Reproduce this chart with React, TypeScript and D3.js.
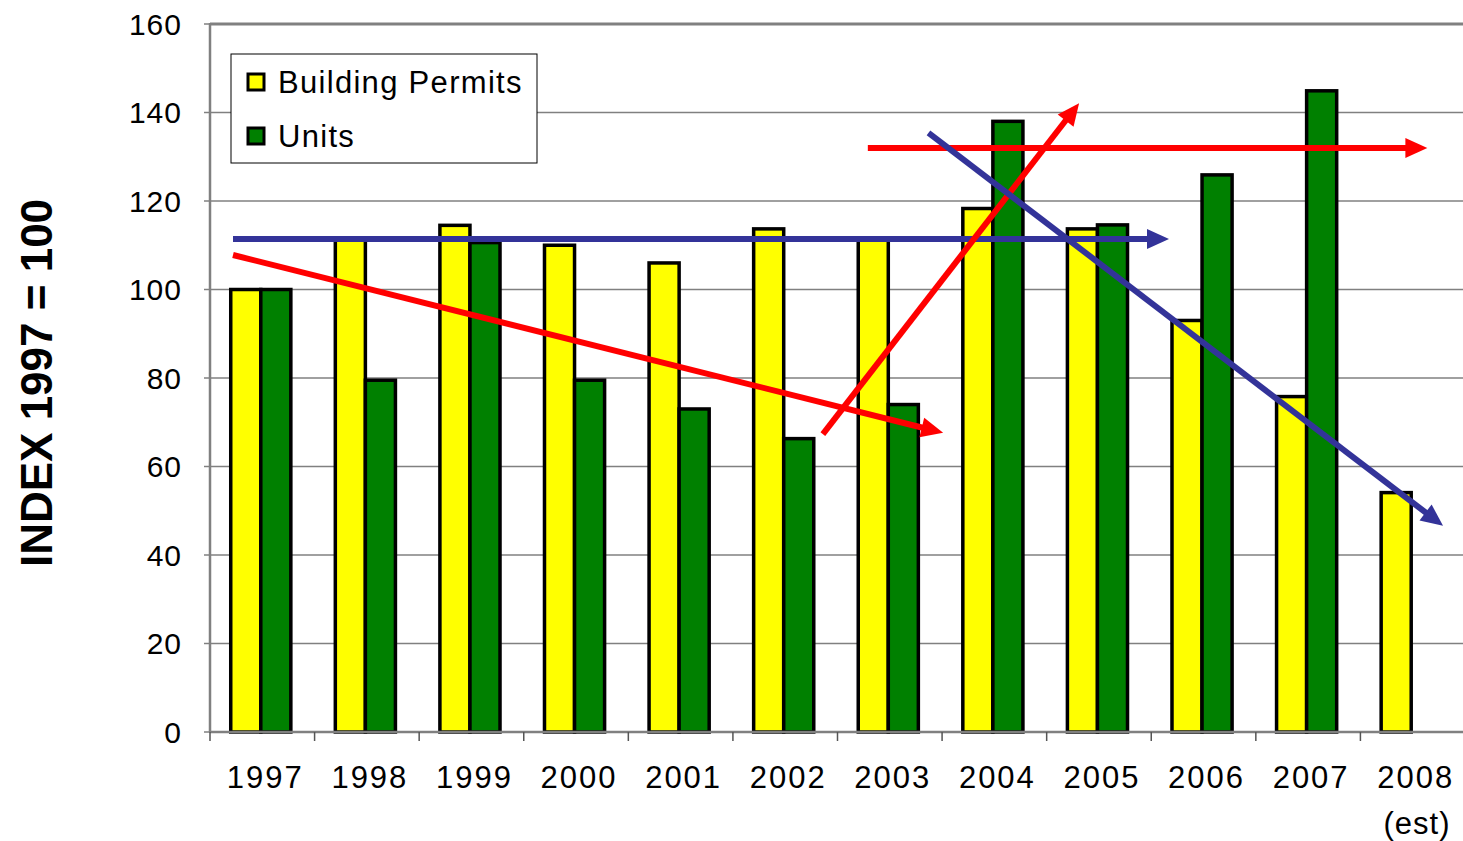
import * as d3 from "d3";

// categories and values
const years = ["1997", "1998", "1999", "2000", "2001", "2002", "2003", "2004", "2005", "2006", "2007", "2008"];
const permits = [100, 111.4, 114.5, 110, 106, 113.7, 111.4, 118.3, 113.7, 93, 75.8, 54.1];
const units = [100, 79.5, 110.6, 79.5, 73, 66.3, 74, 138, 114.6, 125.9, 144.9, null];
const yTicks = [0, 20, 40, 60, 80, 100, 120, 140, 160];
const seriesNames = ["Building Permits", "Units"];
const seriesColors = ["#ffff00", "#008000"];

// hand-drawn trend arrows, in (category position, index value)
const arrows = [
  { color: "#ff0000", x1: 0.22, y1: 107.8, x2: 7.01, y2: 67.6 },
  { color: "#333399", x1: 0.22, y1: 111.4, x2: 9.17, y2: 111.4 },
  { color: "#ff0000", x1: 5.86, y1: 67.3, x2: 8.31, y2: 142.1 },
  { color: "#ff0000", x1: 6.29, y1: 132, x2: 11.64, y2: 132 },
  { color: "#333399", x1: 6.87, y1: 135.4, x2: 11.79, y2: 46.6 },
];

const W = 1463;
const H = 841;
const left = 210;
const right = 1465;
const top = 24;
const bottom = 732;
const font = "'Liberation Sans', Arial, sans-serif";

function Arrow({ a, xs, ys }) {
  const x1 = xs(a.x1), y1 = ys(a.y1), x2 = xs(a.x2), y2 = ys(a.y2);
  const ang = Math.atan2(y2 - y1, x2 - x1);
  const len = 22, half = 10;
  const bx = x2 - len * Math.cos(ang), by = y2 - len * Math.sin(ang);
  const px = -Math.sin(ang) * half, py = Math.cos(ang) * half;
  const head = `${x2},${y2} ${bx + px},${by + py} ${bx - px},${by - py}`;
  return (
    <g>
      <line x1={x1} y1={y1} x2={bx + 2 * Math.cos(ang)} y2={by + 2 * Math.sin(ang)} stroke={a.color} strokeWidth={6} />
      <polygon points={head} fill={a.color} />
    </g>
  );
}

export default function App() {
  const x = d3.scaleBand().domain(years).range([left, right]);
  const inner = d3.scaleBand().domain(seriesNames).range([0, x.bandwidth()]).paddingOuter(0.74);
  const y = d3.scaleLinear().domain([0, 160]).range([bottom, top]);
  const xLin = d3.scaleLinear().domain([0, 12]).range([left, right]);

  const data = [permits, units];

  return (
    <div style={{ position: "absolute", left: 0, top: 0 }}>
      <svg width={W} height={H} style={{ display: "block", background: "#fff" }} fontFamily={font}>
        {/* grid + y ticks */}
        {yTicks.map((t) => (
          <g key={t}>
            {t > 0 && (
              <line x1={left} x2={right} y1={y(t)} y2={y(t)} stroke="#808080" strokeWidth={t === 160 ? 3 : 1.5} />
            )}
            <line x1={left - 6} x2={left} y1={y(t)} y2={y(t)} stroke="#808080" strokeWidth={1.5} />
            <text x={182} y={y(t)} textAnchor="end" dominantBaseline="central" fontSize={30} letterSpacing={1}>
              {t}
            </text>
          </g>
        ))}

        {/* bars */}
        {years.map((yr, i) => (
          <g key={yr} transform={`translate(${(x(yr) as number) - 1.5},0)`}>
            {data.map((s, k) =>
              s[i] == null ? null : (
                <rect
                  key={k}
                  x={inner(seriesNames[k])}
                  y={y(s[i])}
                  width={inner.bandwidth()}
                  height={y(0) - y(s[i])}
                  fill={seriesColors[k]}
                  stroke="#000"
                  strokeWidth={3.5}
                />
              )
            )}
          </g>
        ))}

        {/* axes */}
        <line x1={left} x2={left} y1={top - 1} y2={bottom} stroke="#808080" strokeWidth={2.5} />
        <line x1={left} x2={right} y1={bottom} y2={bottom} stroke="#808080" strokeWidth={2.5} />
        {years.map((yr) => (
          <line key={yr} x1={x(yr)} x2={x(yr)} y1={bottom} y2={bottom + 9} stroke="#555" strokeWidth={1.5} />
        ))}
        {years.map((yr) => (
          <text
            key={yr}
            x={(x(yr) as number) + x.bandwidth() / 2 + 3}
            y={788}
            textAnchor="middle"
            fontSize={31}
            letterSpacing={2}
          >
            {yr}
          </text>
        ))}
        <text x={1417} y={834} textAnchor="middle" fontSize={31} letterSpacing={1}>
          (est)
        </text>

        {/* y title */}
        <text
          transform={`translate(52,383) rotate(-90)`}
          textAnchor="middle"
          fontSize={44}
          fontWeight="bold"
        >
          INDEX 1997 = 100
        </text>

        {/* legend */}
        <rect x={231} y={54} width={306} height={109} fill="#fff" stroke="#000" strokeWidth={1} />
        {seriesNames.map((n, k) => (
          <g key={n} transform={`translate(0,${82 + k * 54})`}>
            <rect x={248} y={-8} width={16} height={16} fill={seriesColors[k]} stroke="#000" strokeWidth={3} />
            <text x={278} y={0} dominantBaseline="central" fontSize={31} letterSpacing={1.3}>
              {n}
            </text>
          </g>
        ))}

        {/* arrows */}
        {arrows.map((a, i) => (
          <Arrow key={i} a={a} xs={xLin} ys={y} />
        ))}
      </svg>
    </div>
  );
}
